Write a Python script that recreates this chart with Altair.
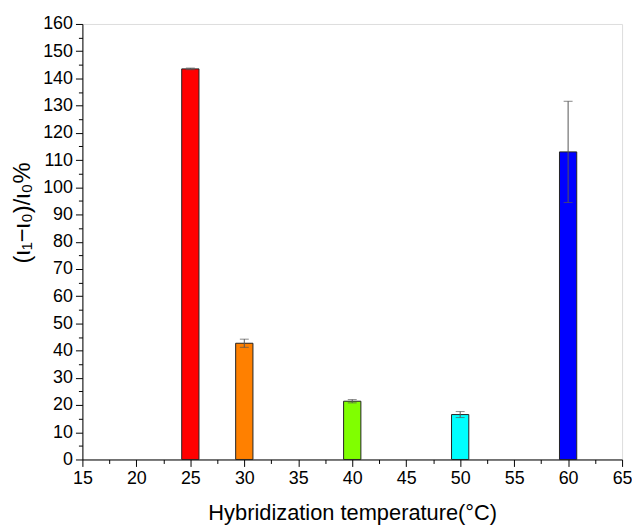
import altair as alt
import pandas as pd

temps = [25, 30, 40, 50, 60]
values = [143.5, 42.7, 21.4, 16.5, 113.0]
errors = [0.3, 1.5, 0.6, 1.1, 18.6]
colors = ["#FF0000", "#FF8000", "#80FF00", "#00FFFF", "#0000FF"]
bar_half_width = 0.8

x_ticks = [15 + 2.5 * i for i in range(21)]
y_ticks = [5 * i for i in range(33)]

df = pd.DataFrame({"t": temps, "v": values, "e": errors, "c": colors})

font = "Liberation Sans"

xscale = alt.Scale(domain=[15, 65], nice=False, zero=False)
yscale = alt.Scale(domain=[0, 160], nice=False)

xaxis = alt.Axis(
    values=x_ticks,
    labelExpr="datum.value % 5 === 0 ? datum.label : ''",
    tickSize={"condition": {"test": "datum.value % 5 === 0", "value": 7}, "value": 4},
    grid=False, domainColor="black", tickColor="black", domainWidth=1, tickWidth=1,
    labelFont=font, labelFontSize=18, labelColor="black", labelPadding=3,
    labelOverlap=False,
    title="Hybridization temperature(°C)", titleFont=font, titleFontSize=22,
    titleFontWeight="normal", titleColor="black", titlePadding=16,
    labelFlush=False,
)
yaxis = alt.Axis(
    values=y_ticks,
    labelExpr="datum.value % 10 === 0 ? datum.label : ''",
    tickSize={"condition": {"test": "datum.value % 10 === 0", "value": 7}, "value": 4},
    grid=False, domainColor="black", tickColor="black", domainWidth=1, tickWidth=1,
    labelFont=font, labelFontSize=18, labelColor="black", labelPadding=3,
    labelOverlap=False,
    title="(ι₁−ι₀)/ι₀%", titleFont=font, titleFontSize=24,
    titleFontWeight="normal", titleColor="black",
    titleX=-60, titleY=190, titleAngle=270, titleAlign="center", titleBaseline="middle",
    labelFlush=False,
)

base = alt.Chart(df).transform_calculate(
    x1=f"datum.t - {bar_half_width}",
    x2=f"datum.t + {bar_half_width}",
    lo="datum.v - datum.e",
    hi="datum.v + datum.e",
)

bars = base.mark_bar(stroke="#222222", strokeWidth=1).encode(
    x=alt.X("x1:Q", scale=xscale, axis=xaxis),
    x2="x2:Q",
    y=alt.Y("v:Q", scale=yscale, axis=yaxis),
    y2=alt.datum(0),
    color=alt.Color("c:N", scale=None),
)

err = base.mark_rule(color="#555555", strokeWidth=1).encode(
    x=alt.X("t:Q", scale=xscale, axis=xaxis),
    y=alt.Y("lo:Q", scale=yscale, axis=yaxis),
    y2="hi:Q",
)

cap_hi = base.mark_tick(color="#555555", size=9, thickness=1, orient="horizontal").encode(
    x=alt.X("t:Q", scale=xscale, axis=xaxis),
    y=alt.Y("hi:Q", scale=yscale, axis=yaxis),
)
cap_lo = base.mark_tick(color="#555555", size=9, thickness=1, orient="horizontal").encode(
    x=alt.X("t:Q", scale=xscale, axis=xaxis),
    y=alt.Y("lo:Q", scale=yscale, axis=yaxis),
)

chart = alt.layer(bars, err, cap_hi, cap_lo).properties(
    width=544, height=439,
    autosize=alt.AutoSizeParams(type="none"),
    padding={"left": 75, "top": 14, "right": 10, "bottom": 70},
).configure_view(stroke=None).configure(background="white")

chart.save("out.html", embed_options={"renderer": "svg", "actions": False})
